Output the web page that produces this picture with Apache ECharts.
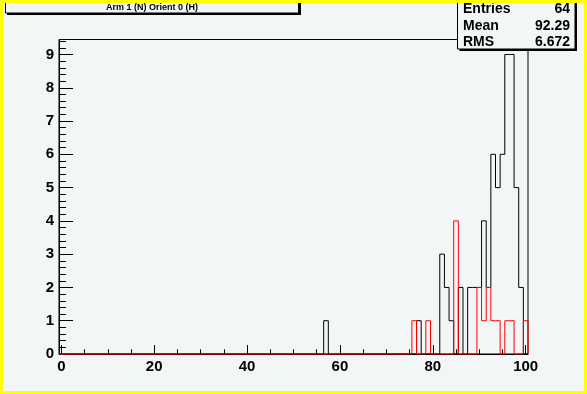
<!DOCTYPE html>
<html>
<head>
<meta charset="utf-8">
<script src="https://cdn.jsdelivr.net/npm/echarts@6/dist/echarts.min.js"></script>
<style>
  html, body { margin: 0; padding: 0; background: #ffff00; }
  #chart { width: 587px; height: 394px; }
</style>
</head>
<body>
<div id="chart"></div>
<script>
// ---- data ----
const xMin = -0.5, xMax = 100.5, binWidth = 1;      // 101 bins centred on integers
const blackBins   = [57, 77, 82, 83, 84, 86, 88, 89, 90, 91, 92, 93, 94, 95, 96, 97, 98, 99];
const blackCounts = [ 1,  1,  3,  2,  1,  2,  2,  2,  2,  4,  2,  6,  5,  6,  9,  9,  5,  2];
const redBins     = [76, 79, 85, 90, 91, 92, 93, 94, 96, 97, 100];
const redCounts   = [ 1,  1,  4,  2,  1,  2,  1,  1,  1,  1,   1];
const xTicks = [0, 20, 40, 60, 80, 100];
const yTicks = [0, 1, 2, 3, 4, 5, 6, 7, 8, 9];
const yMax = 9.45;
const titleText = 'Arm 1 (N) Orient 0 (H)';
const statNames  = ['Entries', 'Mean', 'RMS'];
const statValues = ['64', '92.29', '6.672'];

const nBins = Math.round((xMax - xMin) / binWidth);
function stepPath(bins, counts) {
  const full = new Array(nBins).fill(0);
  bins.forEach((b, i) => { full[Math.round(b - xMin - binWidth / 2)] = counts[i]; });
  const pts = [[xMin, 0]];
  full.forEach((v, i) => {
    const lo = xMin + i * binWidth, hi = lo + binWidth;
    pts.push([lo, v], [hi, v]);
  });
  pts.push([xMax, 0]);
  return pts;
}

const BG = '#f2f6f7';
const FONT = '"Liberation Sans", Arial, Helvetica, sans-serif';
const chart = echarts.init(document.getElementById('chart'), null, { renderer: 'canvas' });

const statGraphics = [];
statNames.forEach((n, i) => {
  const y = 8.5 + i * 16.3;
  statGraphics.push({ type: 'text', z: 101, left: 463, top: y - 6,
    style: { text: n, font: 'bold 14px ' + FONT, fill: '#000' } });
  statGraphics.push({ type: 'text', z: 101, right: 587 - 570, top: y - 6,
    style: { text: statValues[i], font: 'bold 14px ' + FONT, fill: '#000', textAlign: 'right' } });
});

const tickLine = { color: '#000', width: 1 };
const labelStyle = { color: '#000', fontSize: 15, fontWeight: 'bold', fontFamily: FONT };
const frameGrid = { left: 59, right: 59, top: 39.5, bottom: 40 };
const tickGrid  = { left: 61.32, right: 61.32, top: 39.5, bottom: 40 };
const noAxisLine = { show: false, onZero: false };
const hiddenAxis = (g, min, max) => ({ type: 'value', gridIndex: g, min: min, max: max, show: false });

chart.setOption({
  backgroundColor: '#ffff00',
  animation: false,
  grid: [
    Object.assign({ show: true, borderColor: '#000', borderWidth: 1, backgroundColor: 'transparent' }, frameGrid), // 0 data + y minor ticks
    Object.assign({ show: false }, frameGrid),  // 1 y major ticks
    Object.assign({ show: false }, tickGrid),   // 2 x major ticks + labels
    Object.assign({ show: false }, tickGrid)    // 3 x minor ticks
  ],
  xAxis: [
    { type: 'value', gridIndex: 0, min: xMin, max: xMax,
      axisLine: { show: true, onZero: false, lineStyle: tickLine },
      axisTick: { show: false }, axisLabel: { show: false }, splitLine: { show: false } },
    hiddenAxis(1, xMin, xMax),
    { type: 'value', gridIndex: 2, min: xTicks[0], max: xTicks[xTicks.length - 1], interval: xTicks[1] - xTicks[0], position: 'bottom',
      axisLine: noAxisLine,
      axisTick: { show: true, inside: true, length: 9, lineStyle: tickLine },
      axisLabel: Object.assign({ show: true, margin: 5 }, labelStyle),
      splitLine: { show: false } },
    { type: 'value', gridIndex: 3, min: xTicks[0], max: xTicks[xTicks.length - 1], interval: 5, position: 'bottom',
      axisLine: noAxisLine,
      axisTick: { show: true, inside: true, length: 4.7, lineStyle: tickLine },
      axisLabel: { show: false }, splitLine: { show: false } }
  ],
  yAxis: [
    { type: 'value', gridIndex: 0, min: 0, max: yMax, interval: 0.2, position: 'left',
      axisLine: { show: true, onZero: false, lineStyle: tickLine },
      axisTick: { show: true, inside: true, length: 7, lineStyle: tickLine },
      axisLabel: Object.assign({ show: true, margin: 5,
        formatter: v => (Math.abs(v - Math.round(v)) < 1e-6 && yTicks.indexOf(Math.round(v)) >= 0) ? String(Math.round(v)) : '' }, labelStyle),
      splitLine: { show: false } },
    { type: 'value', gridIndex: 1, min: 0, max: yMax, interval: 1, position: 'left',
      axisLine: noAxisLine,
      axisTick: { show: true, inside: true, length: 14, lineStyle: tickLine },
      axisLabel: { show: false }, splitLine: { show: false } },
    hiddenAxis(2, 0, yMax),
    hiddenAxis(3, 0, yMax)
  ],
  series: [
    { type: 'line', name: 'black', xAxisIndex: 0, yAxisIndex: 0, data: stepPath(blackBins, blackCounts),
      showSymbol: false, symbol: 'none', clip: false, z: 3,
      lineStyle: { color: '#000', width: 1 } },
    { type: 'line', name: 'red', xAxisIndex: 0, yAxisIndex: 0, data: stepPath(redBins, redCounts),
      showSymbol: false, symbol: 'none', clip: false, z: 4,
      lineStyle: { color: '#ff0000', width: 1 } }
  ],
  graphic: [
    { type: 'rect', z: -10, silent: true, shape: { x: 3, y: 3, width: 581, height: 388 }, style: { fill: BG } },
    // title box
    { type: 'rect', z: 99, shape: { x: 7, y: -5, width: 294, height: 20 }, style: { fill: '#000' } },
    { type: 'rect', z: 100, shape: { x: 5.5, y: -5, width: 293, height: 18 }, style: { fill: BG, stroke: '#000', lineWidth: 1 } },
    { type: 'text', z: 101, left: 152 - 46, top: 3.5, style: { text: titleText, font: 'bold 9px ' + FONT, fill: '#000' } },
    // stats box
    { type: 'rect', z: 99, shape: { x: 459.5, y: -5, width: 117.5, height: 56 }, style: { fill: '#000' } },
    { type: 'rect', z: 100, shape: { x: 457.5, y: -5, width: 117.5, height: 54 }, style: { fill: BG, stroke: '#000', lineWidth: 1 } },
    ...statGraphics,
    // yellow frame on top
    { type: 'rect', z: 200, silent: true, shape: { x: 1.5, y: 1.5, width: 584, height: 391 }, style: { fill: 'none', stroke: '#ffff00', lineWidth: 3 } }
  ]
});
</script>
</body>
</html>
